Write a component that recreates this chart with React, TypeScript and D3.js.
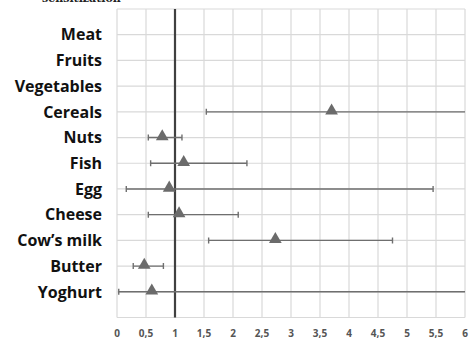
import React from "react";
import * as d3 from "d3";

// categories from bottom (1) to top (11)
const categories = [
  "Yoghurt",
  "Butter",
  "Cow\u2019s milk",
  "Cheese",
  "Egg",
  "Fish",
  "Nuts",
  "Cereals",
  "Vegetables",
  "Fruits",
  "Meat",
];
// odds ratio and 95% CI, null where there is no estimate
const estimates = [0.6, 0.47, 2.73, 1.07, 0.9, 1.15, 0.78, 3.7, null, null, null];
const lowers = [0.03, 0.28, 1.58, 0.54, 0.16, 0.58, 0.54, 1.54, null, null, null];
const uppers = [8, 0.8, 4.75, 2.09, 5.45, 2.24, 1.12, 8, null, null, null];
const xTicks = [0, 0.5, 1, 1.5, 2, 2.5, 3, 3.5, 4, 4.5, 5, 5.5, 6];

const W = 470;
const H = 341;
const margin = { top: 9, right: 5, bottom: 23, left: 117 };

const App = () => {
  const x = d3
    .scaleLinear()
    .domain([0, 6])
    .range([margin.left, W - margin.right]);
  const y = d3
    .scaleLinear()
    .domain([0, 12])
    .range([H - margin.bottom - 0.5, margin.top]);

  const rows = categories.map((c, i) => ({
    name: c,
    pos: i + 1,
    est: estimates[i],
    lo: lowers[i],
    hi: uppers[i],
  }));

  const tri = d3.symbol().type(d3.symbolTriangle).size(70);
  const fmt = (d) => String(d).replace(".", ",");
  const grid = "#d9d9d9";
  const bar = "#6f6f6f";

  return (
    <svg
      width={W}
      height={H}
      style={{ position: "absolute", left: 0, top: 0, background: "#fff" }}
    >
      <defs>
        <clipPath id="plot">
          <rect x={x(0)} y={margin.top} width={x(6) - x(0)} height={y(0) - margin.top} />
        </clipPath>
      </defs>
      <text
        x={42}
        y={2}
        fontFamily="DejaVu Serif"
        fontWeight="bold"
        fontSize={11}
        fill="#222"
      >
        sensitization
      </text>
      {/* grid */}
      {xTicks.map((t) => (
        <line
          key={"gx" + t}
          x1={x(t)}
          x2={x(t)}
          y1={y(12)}
          y2={y(0)}
          stroke={grid}
          strokeWidth={1.2}
        />
      ))}
      {d3.range(0, 13).map((v) => (
        <line
          key={"gy" + v}
          x1={x(0)}
          x2={x(6)}
          y1={y(v)}
          y2={y(v)}
          stroke={grid}
          strokeWidth={1.2}
        />
      ))}
      {/* reference line at 1 */}
      <line
        x1={x(1)}
        x2={x(1)}
        y1={y(12)}
        y2={y(0)}
        stroke="#404040"
        strokeWidth={2.2}
      />
      {/* error bars */}
      <g clipPath="url(#plot)">
        {rows
          .filter((d) => d.lo != null)
          .map((d) => (
            <g key={"e" + d.name} stroke={bar} strokeWidth={1.4}>
              <line x1={x(d.lo)} x2={x(d.hi)} y1={y(d.pos)} y2={y(d.pos)} />
              <line x1={x(d.lo)} x2={x(d.lo)} y1={y(d.pos) - 3} y2={y(d.pos) + 3} />
              <line x1={x(d.hi)} x2={x(d.hi)} y1={y(d.pos) - 3} y2={y(d.pos) + 3} />
            </g>
          ))}
      </g>
      {/* point estimates */}
      {rows
        .filter((d) => d.est != null)
        .map((d) => (
          <path
            key={"p" + d.name}
            d={tri()}
            transform={`translate(${x(d.est)},${y(d.pos) - 1})`}
            fill="#6b6b6b"
          />
        ))}
      {/* category labels */}
      {rows.map((d) => (
        <text
          key={"l" + d.name}
          x={102}
          y={y(d.pos)}
          dy="0.36em"
          textAnchor="end"
          fontFamily="Open Sans"
          fontWeight="bold"
          fontSize={16}
          fill="#111"
        >
          {d.name}
        </text>
      ))}
      {/* x tick labels */}
      {xTicks.map((t) => (
        <text
          key={"t" + t}
          x={x(t)}
          y={333}
          dy="0.35em"
          textAnchor="middle"
          fontFamily="Open Sans"
          fontWeight="bold"
          fontSize={10}
          fill="#555"
        >
          {fmt(t)}
        </text>
      ))}
    </svg>
  );
};

export default App;
